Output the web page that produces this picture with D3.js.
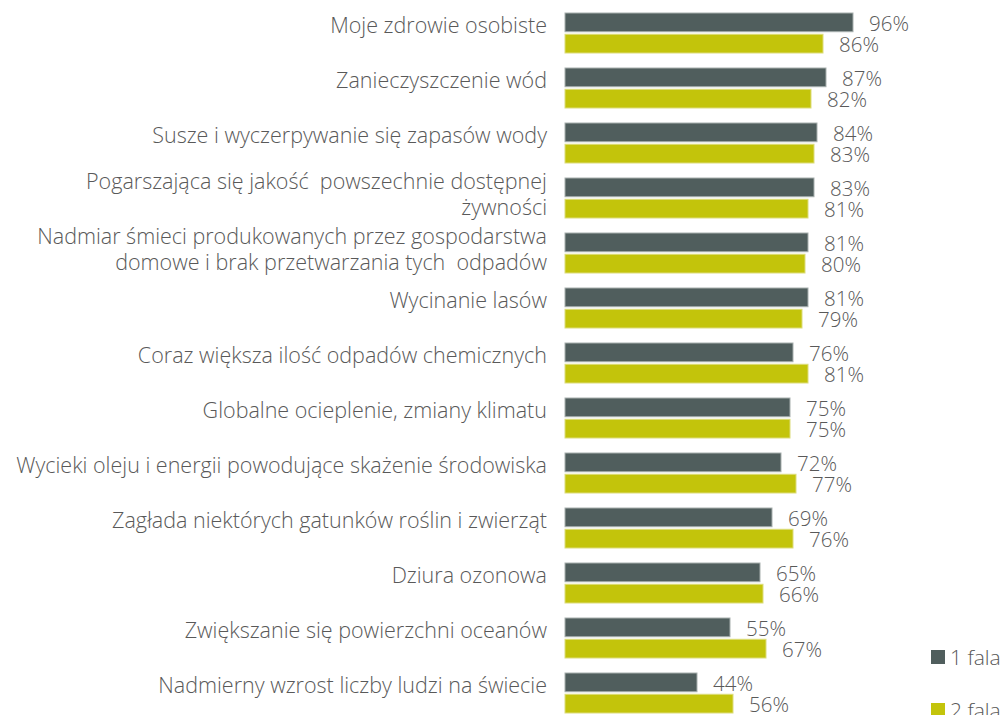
<!DOCTYPE html>
<html><head><meta charset="utf-8">
<script src="https://cdn.jsdelivr.net/npm/d3@7"></script>
<style>body{margin:0;background:#fff}svg{display:block}text{font-family:"Open Sans",sans-serif;font-weight:300;fill:#595959}</style>
</head><body>
<svg id="c" width="1003" height="715"></svg>
<script>
const categories = [
  ["Moje zdrowie osobiste"],
  ["Zanieczyszczenie wód"],
  ["Susze i wyczerpywanie się zapasów wody"],
  ["Pogarszająca się jakość  powszechnie dostępnej", "żywności"],
  ["Nadmiar śmieci produkowanych przez gospodarstwa", "domowe i brak przetwarzania tych  odpadów"],
  ["Wycinanie lasów"],
  ["Coraz większa ilość odpadów chemicznych"],
  ["Globalne ocieplenie, zmiany klimatu"],
  ["Wycieki oleju i energii powodujące skażenie środowiska"],
  ["Zagłada niektórych gatunków roślin i zwierząt"],
  ["Dziura ozonowa"],
  ["Zwiększanie się powierzchni oceanów"],
  ["Nadmierny wzrost liczby ludzi na świecie"]
];
const seriesNames = ["1 fala", "2 fala"];
const fala1 = [96, 87, 84, 83, 81, 81, 76, 75, 72, 69, 65, 55, 44];
const fala2 = [86, 82, 83, 81, 80, 79, 81, 75, 77, 76, 66, 67, 56];
const colors = ["#505e5d", "#c3c40b"];
const strokes = ["#a7afae", "#dcdc7a"];

const svg = d3.select("#c");
const keys = categories.map((c, i) => i);
const x = d3.scaleLinear().domain([0, 100]).range([565, 865]);
const y0 = d3.scaleBand().domain(keys).range([5.5, 720.5]).paddingInner(15/55).paddingOuter(7.5/55);
const y1 = d3.scaleBand().domain([0, 1]).range([0, y0.bandwidth()]).paddingInner(0.12);
const series = [fala1, fala2];

const g = svg.append("g");
keys.forEach(i => {
  const gg = g.append("g").attr("transform", `translate(0,${y0(i)})`);
  series.forEach((s, k) => {
    gg.append("rect")
      .attr("x", x(0)).attr("y", y1(k))
      .attr("width", x(s[i]) - x(0)).attr("height", y1.bandwidth())
      .attr("fill", colors[k]).attr("stroke", strokes[k]).attr("stroke-width", 1);
    gg.append("text")
      .attr("x", x(s[i]) + 16).attr("y", y1(k) + y1.bandwidth() / 2 + 1)
      .attr("dy", "0.36em").attr("font-size", 20.5)
      .text(s[i] + "%");
  });
  const lines = categories[i];
  const mid = y0.bandwidth() / 2;
  const lh = 26.5;
  lines.forEach((t, j) => {
    const yy = lines.length === 1 ? mid - 8 : mid - 4 + (j - (lines.length - 1) / 2) * lh;
    gg.append("text")
      .attr("x", 547).attr("text-anchor", "end")
      .attr("y", yy)
      .attr("dy", "0.36em").attr("font-size", 21.5)
      .style("white-space", "pre")
      .text(t);
  });
});

const leg = svg.append("g");
seriesNames.forEach((n, k) => {
  const ly = 657 + k * 53;
  leg.append("rect").attr("x", 931).attr("y", ly - 7).attr("width", 14).attr("height", 14).attr("fill", colors[k]);
  leg.append("text").attr("x", 950).attr("y", ly).attr("dy", "0.36em").attr("font-size", 21).text(n);
});
</script>
</body></html>
